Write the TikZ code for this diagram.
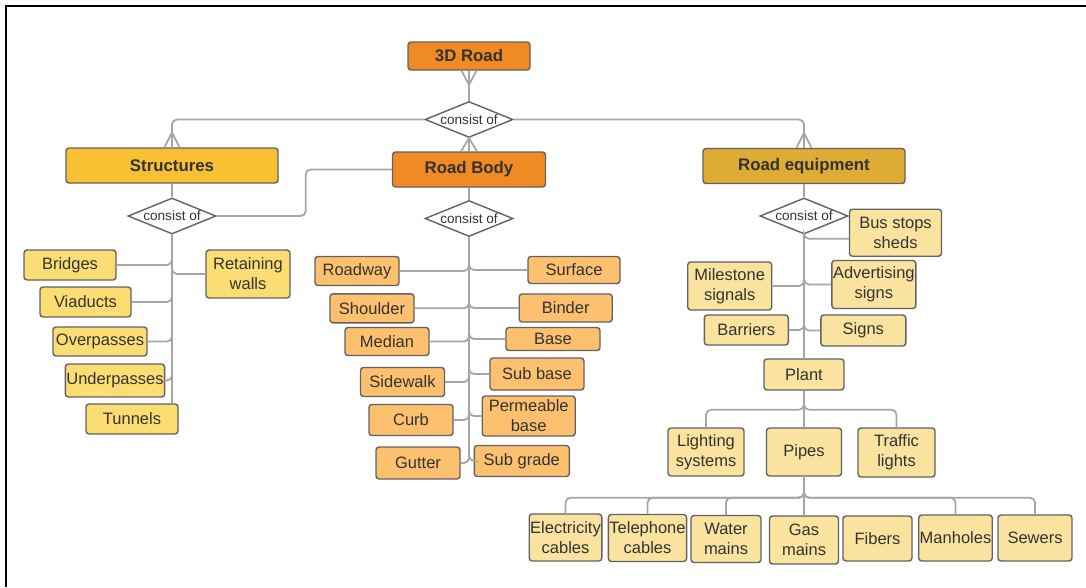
\documentclass[tikz,border=0pt]{standalone}
\usepackage{fontspec}
\setmainfont{Liberation Sans}
\usetikzlibrary{shapes.geometric}
\definecolor{ink}{HTML}{333333}
\definecolor{edge}{HTML}{A6A6A6}
\definecolor{frame}{HTML}{626262}
\definecolor{orangeA}{HTML}{EF8B22}
\definecolor{goldA}{HTML}{F8C133}
\definecolor{goldB}{HTML}{DEAC35}
\definecolor{paleY}{HTML}{FCDD74}
\definecolor{paleO}{HTML}{FCC06F}
\definecolor{paleE}{HTML}{FAE29F}
\begin{document}
\begin{tikzpicture}[x=1pt,y=-1pt,
  wh/.style 2 args={minimum width=#1pt, minimum height=#2pt},
  box/.style={draw=frame, line width=1.4pt, rounded corners=3pt, inner xsep=1pt, inner ysep=0pt,
              align=center, text=ink, font=\fontsize{16.5}{20}\selectfont},
  head/.style={box, font=\fontsize{16.8}{20}\selectfont\bfseries},
  sbox/.style={box, fill=paleY},
  bbox/.style={box, fill=paleO},
  ebox/.style={box, fill=paleE},
  rel/.style={draw=frame, fill=white, shape=diamond, aspect=2.44, inner sep=0pt,
              minimum width=88pt, minimum height=36pt, line width=1.4pt, text=ink,
              font=\fontsize{13.6}{15}\selectfont},
  conn/.style={draw=edge, line width=1.8pt, rounded corners=5pt},
  foot/.style={draw=edge, line width=1.8pt},
  ]
\useasboundingbox (0,0) rectangle (1086,587);
% frame edges
\draw[black, line width=2pt] (6,587) -- (6,6) -- (1086,6);

% top level
\node[head, fill=orangeA, wh={122}{28}] (road) at (469,56) {3D Road};
\node[rel] (rd) at (469,119.5) {consist of};
\node[head, fill=goldA, wh={212}{35}] (struct) at (172,165.5) {Structures};
\node[head, fill=orangeA, wh={153}{35}] (body) at (469,169.5) {Road Body};
\node[head, fill=goldB, wh={202}{35}] (equip) at (804,166) {Road equipment};
\node[rel] (sd) at (172,216) {consist of};
\node[rel] (bd) at (469,218.5) {consist of};
\node[rel] (ed) at (804,216) {consist of};

% structures
\node[sbox, wh={92}{30}] (bridges) at (70,265) {Bridges};
\node[sbox, wh={91}{30}] (viaducts) at (85.5,302) {Viaducts};
\node[sbox, wh={94}{29}] (overpasses) at (100,341.5) {Overpasses};
\node[sbox, wh={94}{33}] (underpasses) at (115,380.5) {Underpasses};
\node[sbox, wh={92}{30}] (tunnels) at (132,419) {Tunnels};
\node[sbox, wh={84}{48}] (walls) at (248,274) {Retaining\\walls};

% road body
\node[bbox, wh={84}{29}] (roadway) at (357,271) {Roadway};
\node[bbox, wh={84}{29}] (shoulder) at (372,308.3) {Shoulder};
\node[bbox, wh={84}{28}] (median) at (387,341.5) {Median};
\node[bbox, wh={84}{29}] (sidewalk) at (402.5,382) {Sidewalk};
\node[bbox, wh={84}{31}] (curb) at (411,420) {Curb};
\node[bbox, wh={84}{32}] (gutter) at (418,463) {Gutter};
\node[bbox, wh={92}{27}] (surface) at (574,270) {Surface};
\node[bbox, wh={93}{28}] (binder) at (565.7,308) {Binder};
\node[bbox, wh={94}{23}] (base) at (553,339) {Base};
\node[bbox, wh={94}{32}] (subbase) at (537,374) {Sub base};
\node[bbox, wh={93}{40}] (perm) at (528.7,416) {Permeable\\base};
\node[bbox, wh={95}{31}] (subgrade) at (521.8,461) {Sub grade};

% road equipment
\node[ebox, wh={92}{47}] (bus) at (895.5,232.7) {Bus stops\\sheds};
\node[ebox, wh={84}{48}] (mile) at (729.7,286) {Milestone\\signals};
\node[ebox, wh={84}{48}] (adv) at (873.8,284.5) {Advertising\\signs};
\node[ebox, wh={84}{30}] (barr) at (746.3,330) {Barriers};
\node[ebox, wh={85}{31}] (signs) at (863.3,330.5) {Signs};
\node[ebox, wh={80}{31}] (plant) at (804,374.5) {Plant};
\node[ebox, wh={76}{48}] (light) at (706,452) {Lighting\\systems};
\node[ebox, wh={75}{48}] (pipes) at (804,452) {Pipes};
\node[ebox, wh={77}{49}] (traffic) at (896.5,452.5) {Traffic\\lights};
\node[ebox, wh={71}{47}] (elec) at (565.5,537.5) {Electricity\\cables};
\node[ebox, wh={75}{47}] (tel) at (647.5,538) {Telephone\\cables};
\node[ebox, wh={70}{47}] (water) at (726,539) {Water\\mains};
\node[ebox, wh={69}{48}] (gas) at (804,540) {Gas\\mains};
\node[ebox, wh={69}{45}] (fibers) at (877.5,538.5) {Fibers};
\node[ebox, wh={73}{46}] (manholes) at (955.5,538) {Manholes};
\node[ebox, wh={74}{46}] (sewers) at (1035,538) {Sewers};

% top-level relations
\draw[conn] (road.south) -- (rd.north);
\draw[foot] ([xshift=-7.5pt]road.south) -- ++(7.5,14) -- ++(7.5,-14);
\draw[conn] (rd.west) -| (struct.north);
\draw[foot] ([xshift=-7.5pt]struct.north) -- ++(7.5,-15) -- ++(7.5,15);
\draw[conn] (rd.east) -| (equip.north);
\draw[foot] ([xshift=-7.5pt]equip.north) -- ++(7.5,-15) -- ++(7.5,15);
\draw[conn] (rd.south) -- (body.north);
\draw[foot] ([xshift=-8pt]body.north) -- (rd.south) -- ([xshift=8pt]body.north);

\draw[conn] (struct.south) -- (sd.north);
\draw[conn] (body.south) -- (bd.north);
\draw[conn] (equip.south) -- (ed.north);
\draw[conn] (sd.east) -- ++(89,0) |- (body.west);

% structures spine
\foreach \n in {bridges,viaducts,overpasses,underpasses}
  \draw[conn] (sd.south) |- (\n.east);
\draw[conn] (sd.south) |- (walls.west);
\draw[conn] (sd.south) -- (sd.south |- tunnels.north);

% road body spine
\foreach \n in {roadway,shoulder,median,sidewalk,curb,gutter}
  \draw[conn] (bd.south) |- (\n.east);
\foreach \n in {surface,binder,base,subbase,perm,subgrade}
  \draw[conn] (bd.south) |- (\n.west);

% road equipment spine
\draw[conn] (ed.south) |- ([yshift=-6pt]bus.west);
\draw[conn] (ed.south) |- (mile.east);
\draw[conn] (ed.south) |- (adv.west);
\draw[conn] (ed.south) |- (barr.east);
\draw[conn] (ed.south) |- (signs.west);
\draw[conn] (ed.south) -- (plant.north);

% plant branches
\draw[conn] (plant.south) -- ++(0,19) -| (light.north);
\draw[conn] (plant.south) -- ++(0,19) -| (traffic.north);
\draw[conn] (plant.south) -- (pipes.north);

% pipe branches
\foreach \n in {elec,tel,water,manholes,sewers}
  \draw[conn] (pipes.south) -- ++(0,21) -| (\n.north);
\draw[conn] (pipes.south) -- (gas.north);
\end{tikzpicture}
\end{document}
